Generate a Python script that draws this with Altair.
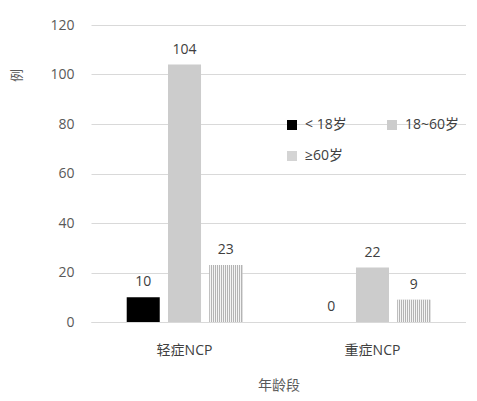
import altair as alt
import pandas as pd

groups = ["轻症NCP", "轻症NCP", "轻症NCP", "重症NCP", "重症NCP", "重症NCP"]
ages = ["< 18岁", "18~60岁", "≥60岁", "< 18岁", "18~60岁", "≥60岁"]
counts = [10, 104, 23, 0, 22, 9]
age_order = ["< 18岁", "18~60岁", "≥60岁"]
age_colors = ["#000000", "#cccccc", "#d4d4d4"]

df = pd.DataFrame({"group": groups, "age": ages, "count": counts})

FONT = "Open Sans, Noto Sans CJK SC"
TXT = "#595959"

# fine striped gradient to imitate the dotted pattern fill
stops = []
n = 33
for i in range(n):
    c = "#b4b4b4" if i % 2 == 0 else "#f4f4f4"
    stops.append({"offset": i / n, "color": c})
    stops.append({"offset": (i + 1) / n, "color": c})
pattern = {"gradient": "linear", "x1": 0, "y1": 0, "x2": 1, "y2": 0, "stops": stops}

x = alt.X("group:N", title="年龄段",
          scale=alt.Scale(paddingInner=0.385, paddingOuter=0.19),
          axis=alt.Axis(labelAngle=0, labelPadding=21, titlePadding=21,
                        labelFontSize=14, titleFontSize=14, labelColor="#404040", titleColor=TXT,
                        labelFont=FONT, titleFont=FONT, ticks=False,
                        domainColor="#d9d9d9", grid=False, titleFontWeight="normal"))
xo = alt.XOffset("age:N", sort=age_order, scale=alt.Scale(paddingInner=0.2, paddingOuter=0))
y = alt.Y("count:Q", title="例",
          scale=alt.Scale(domain=[0, 120]),
          axis=alt.Axis(values=[0, 20, 40, 60, 80, 100, 120], labelFontSize=14, labelColor=TXT,
                        labelFont=FONT, titleFont=FONT, titleFontSize=13, titleColor=TXT,
                        titleFontWeight="normal", labelPadding=17, ticks=False, domain=False,
                        gridColor="#d9d9d9", titleX=-75, titleY=50, titleAngle=-90,
                        titleBaseline="middle", titleAlign="center"))

bars = alt.Chart(df).mark_bar().encode(
    x=x, xOffset=xo, y=y,
    color=alt.Color("age:N", sort=age_order,
                    scale=alt.Scale(domain=age_order, range=age_colors),
                    legend=alt.Legend(title=None, orient="none", legendX=194, legendY=93,
                                      direction="horizontal",
                                      columns=2, columnPadding=38, rowPadding=17,
                                      symbolType="square", symbolSize=100,
                                      symbolStrokeWidth=0, labelFontSize=14,
                                      labelColor="#404040", labelFont=FONT, labelOffset=6)),
)

pat = alt.Chart(df).transform_filter(alt.datum.age == "≥60岁").mark_bar(fill=pattern).encode(
    x=x, xOffset=xo, y=y,
)

labels = alt.Chart(df).mark_text(baseline="bottom", dy=-8, fontSize=14, font=FONT,
                                 color="#404040").encode(
    x=x, xOffset=xo, y=y, text=alt.Text("count:Q"),
)

chart = (bars + pat + labels).properties(
    width=375, height=297,
    autosize=alt.AutoSizeParams(type="none"),
    padding={"left": 83, "top": 17, "right": 0, "bottom": 71},
).configure_view(stroke=None)

chart.save("out.html", embed_options={"renderer": "svg", "actions": False})
